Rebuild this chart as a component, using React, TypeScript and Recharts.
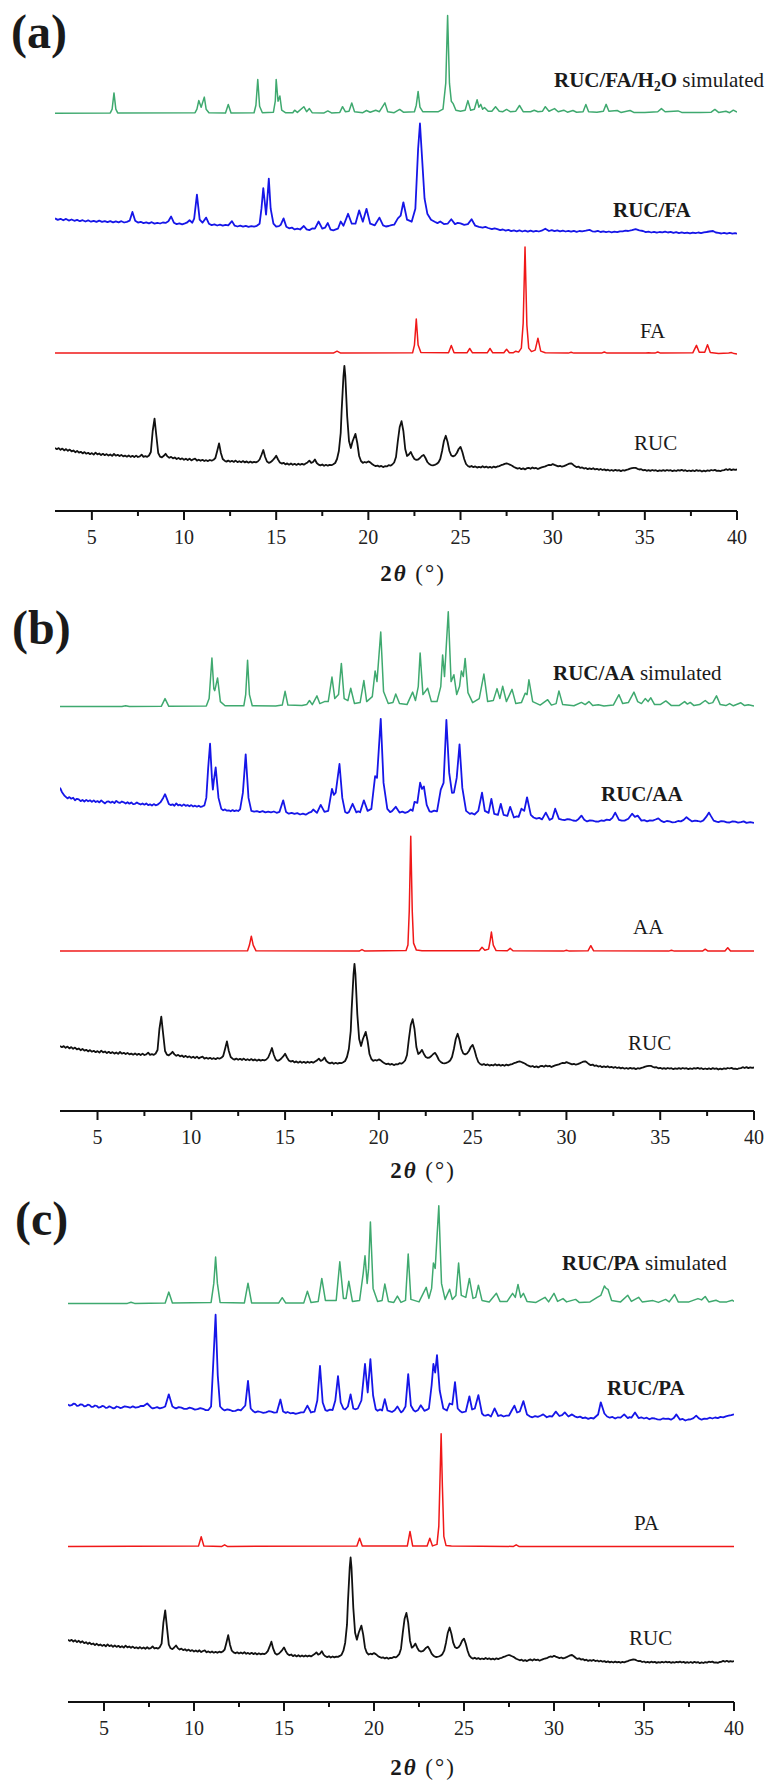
import { LineChart, Line, XAxis, YAxis } from "recharts";

type Pt = [number, number];

const TICKS = [5, 7.5, 10, 12.5, 15, 17.5, 20, 22.5, 25, 27.5, 30, 32.5, 35, 37.5, 40];

// RUC measured pattern (same in all three panels)
const RUC: Pt[] = [
  [3.0, 23], [3.1, 21.8], [3.2, 22.9], [3.3, 21.2], [3.4, 22.4], [3.5, 20.6], [3.6, 21.9], [3.7, 20.2], [3.8, 21.4], [3.9, 19.6],
  [4.0, 20.5], [4.1, 18.8], [4.2, 20.1], [4.3, 18.4], [4.4, 19.2], [4.5, 17.6], [4.6, 18.9], [4.7, 17.3], [4.8, 18.2], [4.9, 16.8],
  [5.0, 17.9], [5.1, 16.4], [5.2, 18.3], [5.3, 16.6], [5.4, 17.5], [5.5, 15.9], [5.6, 17.2], [5.7, 15.8], [5.8, 16.9], [5.9, 15.4],
  [6.0, 16.5], [6.1, 15.1], [6.2, 17], [6.3, 15.3], [6.4, 16.2], [6.5, 14.9], [6.6, 16.1], [6.7, 14.6], [6.8, 15.4], [6.9, 14.3],
  [7.0, 15.6], [7.1, 14.1], [7.2, 15.2], [7.3, 13.9], [7.4, 15.4], [7.5, 14], [7.6, 14.6], [7.7, 16.3], [7.8, 14.2], [7.9, 14.8],
  [8.0, 14.1], [8.1, 15.5], [8.2, 19], [8.3, 40], [8.4, 52.4], [8.5, 35], [8.6, 18], [8.7, 14.4], [8.8, 13.6], [8.9, 15.2],
  [9.0, 17.2], [9.1, 14.6], [9.2, 13.2], [9.3, 14.1], [9.4, 12.6], [9.5, 13.5], [9.6, 12], [9.7, 13.1], [9.8, 11.7], [9.9, 12.6],
  [10.0, 11.2], [10.1, 12.3], [10.2, 11], [10.3, 12.4], [10.4, 10.6], [10.5, 11.7], [10.6, 12.3], [10.7, 10.4], [10.8, 11.3], [10.9, 10.2],
  [11.0, 11.2], [11.1, 10], [11.2, 10.8], [11.3, 9.9], [11.4, 11], [11.5, 10.3], [11.6, 11.2], [11.7, 13], [11.8, 20], [11.9, 27.6],
  [12.0, 18], [12.1, 12], [12.2, 10.3], [12.3, 9.4], [12.4, 10.4], [12.5, 9.2], [12.6, 10.2], [12.7, 9.1], [12.8, 10.4], [12.9, 8.9],
  [13.0, 9.8], [13.1, 8.7], [13.2, 9.9], [13.3, 8.6], [13.4, 9.6], [13.5, 8.3], [13.6, 9.4], [13.7, 8.4], [13.8, 9.1], [13.9, 8.6],
  [14.0, 9.5], [14.1, 11.5], [14.2, 16], [14.3, 21], [14.4, 14], [14.5, 9.5], [14.6, 8.1], [14.7, 8.9], [14.8, 10.5], [14.9, 12.6],
  [15.0, 15.3], [15.1, 11.5], [15.2, 8.6], [15.3, 7.4], [15.4, 8.2], [15.5, 6.6], [15.6, 7.6], [15.7, 6.3], [15.8, 7.5], [15.9, 6.2],
  [16.0, 7.2], [16.1, 6.1], [16.2, 7.3], [16.3, 6.2], [16.4, 7.1], [16.5, 6.3], [16.6, 7.5], [16.7, 8.6], [16.8, 10.3], [16.9, 8.1],
  [17.0, 9], [17.1, 11.5], [17.2, 8], [17.3, 6.4], [17.4, 5.6], [17.5, 6.5], [17.6, 5.2], [17.7, 6.2], [17.8, 5.3], [17.9, 6.1],
  [18.0, 5.8], [18.1, 6.8], [18.2, 8], [18.3, 12], [18.4, 20], [18.5, 38], [18.55, 60], [18.65, 95], [18.7, 105.2], [18.75, 95],
  [18.85, 55], [18.95, 30], [19.05, 23], [19.15, 30], [19.3, 37.1], [19.4, 28], [19.5, 15], [19.6, 10], [19.7, 8.2], [19.8, 9],
  [19.9, 8.4], [20.0, 9.6], [20.1, 8.6], [20.2, 7], [20.3, 5.8], [20.4, 4.9], [20.5, 5.4], [20.6, 4.3], [20.7, 5.1], [20.8, 3.9],
  [20.9, 4.8], [21.0, 4.6], [21.1, 5.8], [21.2, 5.3], [21.3, 6.5], [21.4, 8.5], [21.5, 14], [21.6, 30], [21.7, 44], [21.8, 49.8],
  [21.9, 40], [22.0, 22], [22.1, 15], [22.2, 16.5], [22.3, 19.1], [22.4, 15], [22.5, 12], [22.6, 11.2], [22.7, 11.5], [22.8, 13],
  [22.9, 15], [23.0, 16.1], [23.1, 13], [23.2, 9], [23.3, 7], [23.4, 5.9], [23.5, 5.7], [23.6, 6.2], [23.7, 7], [23.8, 8.5],
  [23.9, 12], [24.0, 20], [24.1, 30], [24.2, 35.2], [24.3, 29], [24.4, 20], [24.5, 15.5], [24.6, 14.6], [24.7, 15.5], [24.8, 18],
  [24.9, 22], [25.0, 24.1], [25.1, 19], [25.2, 12], [25.3, 7], [25.4, 5], [25.5, 4.1], [25.6, 5], [25.7, 3.8], [25.8, 4.6],
  [25.9, 3.4], [26.0, 4.2], [26.1, 3.5], [26.2, 4.8], [26.3, 3.6], [26.4, 4.4], [26.5, 3.3], [26.6, 4.1], [26.7, 3.2], [26.8, 4.4],
  [26.9, 3.6], [27.0, 4.5], [27.1, 4.9], [27.2, 5.8], [27.3, 6.4], [27.4, 7.2], [27.5, 7.7], [27.6, 7], [27.7, 6.2], [27.8, 5.3],
  [27.9, 4], [28.0, 3.2], [28.1, 2.4], [28.2, 3], [28.3, 1.8], [28.4, 2.6], [28.5, 1.6], [28.6, 2.8], [28.7, 3.2], [28.8, 2.2],
  [28.9, 3.5], [29.0, 2.6], [29.1, 3.1], [29.2, 2], [29.3, 2.9], [29.4, 3.6], [29.5, 4.2], [29.6, 4.6], [29.7, 5.5], [29.8, 6.2],
  [29.9, 5.8], [30.0, 6.9], [30.1, 6.1], [30.2, 5.4], [30.3, 4.6], [30.4, 5.2], [30.5, 4.3], [30.6, 4.8], [30.7, 5.6], [30.8, 6.5],
  [30.9, 7.3], [31.0, 7.7], [31.1, 6.4], [31.2, 4.9], [31.3, 3.8], [31.4, 4.4], [31.5, 3.1], [31.6, 3.6], [31.7, 2.4], [31.8, 3],
  [31.9, 1.8], [32.0, 2.6], [32.1, 1.9], [32.2, 2.8], [32.3, 1.6], [32.4, 2.2], [32.5, 1.2], [32.6, 2], [32.7, 1], [32.8, 1.6],
  [32.9, 0.6], [33.0, 1.3], [33.1, 0.3], [33.2, 1], [33.3, 0.2], [33.4, 1.1], [33.5, 0.3], [33.6, 0.9], [33.7, -0.1], [33.8, 0.8],
  [33.9, 0.4], [34.0, 1.1], [34.1, 1.6], [34.2, 2.4], [34.3, 2.8], [34.4, 3.2], [34.5, 3.1], [34.6, 2.2], [34.7, 1.5], [34.8, 1.8],
  [34.9, 0.7], [35.0, 1.2], [35.1, 0.2], [35.2, 0.9], [35.3, 0.1], [35.4, 1], [35.5, 0.3], [35.6, 0.8], [35.7, -0.2], [35.8, 0.6],
  [35.9, 0.1], [36.0, 0.9], [36.1, 0.2], [36.2, 1], [36.3, 0.3], [36.4, 0.8], [36.5, -0.1], [36.6, 0.6], [36.7, 0], [36.8, 0.9],
  [36.9, 0.3], [37.0, 1.1], [37.1, 0.2], [37.2, 0.8], [37.3, -0.2], [37.4, 0.5], [37.5, -0.1], [37.6, 0.7], [37.7, -0.2], [37.8, 0.9],
  [37.9, 0.1], [38.0, 0.6], [38.1, -0.5], [38.2, 0.4], [38.3, -0.3], [38.4, 0.6], [38.5, 0.1], [38.6, 1], [38.7, 0.5], [38.8, 1.1],
  [38.9, 0.1], [39.0, 0.4], [39.1, -0.2], [39.2, 0.7], [39.3, 0.9], [39.4, 1.8], [39.5, 1], [39.6, 1.9], [39.7, 0.9], [39.8, 1.6],
  [39.9, 1.1], [40, 1.5],
];

// (a)
const FA_H2O_SIM: Pt[] = [
  [3, 0], [6.0, 0.3], [6.1, 4], [6.2, 20.3], [6.3, 4], [6.4, 0.3], [10.6, 0.5], [10.7, 4], [10.8, 12.6], [10.93, 6],
  [11.1, 16.1], [11.2, 4], [11.35, 0.5], [12.25, 0.3], [12.4, 8.8], [12.55, 0.3], [13.8, 0.5], [13.9, 8], [14.0, 33.7], [14.1, 7],
  [14.25, 0.5], [14.85, 1], [14.95, 12], [15.0, 33.7], [15.1, 12], [15.2, 17.2], [15.3, 3], [15.5, 0.5], [15.9, 0.5], [16.0, 3],
  [16.15, 0.8], [16.5, 6.5], [16.65, 1.5], [16.8, 4.6], [16.95, 0.5], [17.6, 0.3], [17.8, 2.3], [18.0, 0.3], [18.45, 0.8], [18.6, 6.5],
  [18.75, 1.5], [18.95, 2], [19.1, 10.3], [19.25, 1.5], [19.7, 0.5], [19.9, 2.7], [20.1, 1], [20.4, 3], [20.6, 1.5], [20.9, 10.3],
  [21.05, 1.5], [21.4, 0.5], [21.7, 3.8], [21.9, 1], [22.5, 1.5], [22.6, 8], [22.7, 21.8], [22.8, 6], [22.95, 1.5], [23.8, 1.5],
  [24.05, 4], [24.2, 30], [24.3, 97.6], [24.4, 30], [24.5, 12], [24.6, 9.6], [24.75, 3], [25.0, 2], [25.25, 3], [25.4, 12.6],
  [25.55, 3], [25.75, 4], [25.9, 13.4], [26.0, 6], [26.1, 8.8], [26.2, 4], [26.3, 5.7], [26.5, 2], [26.7, 2], [26.9, 6.5],
  [27.1, 2], [27.3, 1.5], [27.5, 3.8], [27.7, 1.5], [28.0, 2], [28.2, 7.7], [28.4, 1.5], [28.8, 1.5], [29.0, 3], [29.2, 1.5],
  [29.45, 2], [29.6, 6.5], [29.8, 2], [30.1, 4.6], [30.3, 1.5], [30.6, 3], [30.8, 1], [31.1, 2.7], [31.3, 1], [31.65, 1.5],
  [31.8, 8.8], [31.95, 1.5], [32.4, 1], [32.75, 2], [32.9, 8.8], [33.05, 2], [33.5, 2.7], [33.7, 0.8], [34.2, 2.7], [34.4, 0.8],
  [35.0, 0.8], [35.7, 1.5], [35.9, 4.6], [36.1, 1.5], [36.8, 2.3], [37.0, 0.8], [38.0, 0.8], [38.6, 1], [38.8, 3.8], [39.0, 0.8],
  [39.4, 2], [39.6, 0.5], [39.8, 3], [40, 1],
];

const RUC_FA: Pt[] = [
  [3, 15.3], [3.15, 13.8], [3.3, 14.9], [3.45, 13.4], [3.6, 14.8], [3.75, 13.1], [3.9, 14.2], [4.05, 12.9], [4.2, 13.8], [4.35, 12.5],
  [4.5, 13.5], [4.65, 12.2], [4.8, 13.4], [4.95, 12], [5.1, 12.9], [5.25, 11.8], [5.4, 13.1], [5.55, 11.9], [5.7, 12.6], [5.85, 11.5],
  [6.0, 12.6], [6.15, 11.3], [6.3, 12.4], [6.45, 11.4], [6.6, 12.5], [6.75, 11.2], [6.9, 11.9], [7.05, 13], [7.2, 21.8], [7.35, 13],
  [7.5, 11.1], [7.65, 11.9], [7.8, 10.6], [7.95, 11.4], [8.1, 10.4], [8.25, 11.5], [8.4, 10.1], [8.55, 10.9], [8.7, 10.2], [8.85, 11.2],
  [9.0, 10.8], [9.15, 12.5], [9.3, 17.2], [9.45, 11], [9.6, 9.6], [9.75, 10.4], [9.9, 9.4], [10.05, 10.3], [10.15, 11], [10.3, 13.4],
  [10.45, 11], [10.55, 15], [10.7, 39], [10.85, 14], [11.0, 11], [11.2, 16.1], [11.35, 10], [11.5, 8.6], [11.65, 9.4], [11.8, 8.2],
  [11.95, 9], [12.1, 8], [12.25, 8.9], [12.4, 8.3], [12.6, 12.6], [12.75, 8], [12.9, 7.2], [13.05, 8], [13.2, 7.1], [13.35, 7.8],
  [13.5, 6.8], [13.65, 7.6], [13.8, 7], [13.95, 7.9], [14.1, 10], [14.2, 25], [14.3, 45.5], [14.4, 28], [14.45, 19.1], [14.5, 30],
  [14.6, 55.1], [14.7, 25], [14.85, 10], [15.0, 7], [15.15, 7.6], [15.25, 9], [15.4, 15.3], [15.55, 7], [15.7, 5.4], [15.85, 6.1],
  [16.0, 4.3], [16.15, 5.1], [16.3, 4.2], [16.5, 7.7], [16.65, 4.4], [16.8, 3.6], [16.95, 5.2], [17.1, 5], [17.3, 12.2], [17.5, 5],
  [17.65, 6], [17.8, 10.7], [17.95, 4], [18.1, 3.3], [18.2, 4], [18.35, 5], [18.5, 12.2], [18.65, 8], [18.9, 19.9], [19.1, 10],
  [19.3, 10], [19.5, 23.3], [19.7, 12], [19.9, 24.9], [20.1, 10], [20.35, 8.4], [20.6, 16.1], [20.8, 8.4], [20.95, 7.2], [21.1, 7.7],
  [21.25, 8.6], [21.4, 9], [21.6, 15.3], [21.75, 18], [21.9, 31.4], [22.1, 14], [22.35, 12], [22.55, 25], [22.7, 85], [22.8, 110.2],
  [22.9, 80], [23.05, 35], [23.2, 20], [23.4, 14], [23.6, 12], [23.75, 10.6], [23.9, 12.2], [24.1, 9.6], [24.3, 10], [24.5, 14.5],
  [24.7, 9.6], [24.85, 10.8], [25.0, 10.3], [25.2, 8.8], [25.4, 9.6], [25.6, 14.5], [25.8, 8], [26.0, 6.9], [26.2, 6], [26.35, 6.8],
  [26.5, 5.7], [26.7, 4.5], [26.85, 5.4], [27.0, 4.6], [27.15, 3.6], [27.3, 4.2], [27.45, 3.1], [27.6, 3.8], [27.75, 2.6], [27.9, 3.3],
  [28.05, 2.4], [28.2, 3.4], [28.35, 2.2], [28.5, 3], [28.65, 2], [28.8, 3.1], [28.95, 2.1], [29.1, 2.9], [29.25, 2.2], [29.4, 3],
  [29.6, 5], [29.8, 2.7], [29.95, 3.6], [30.1, 2.5], [30.25, 3.4], [30.4, 2.3], [30.55, 3.1], [30.7, 2.2], [30.85, 2.9], [31.0, 2],
  [31.15, 2.8], [31.3, 1.9], [31.45, 2.7], [31.6, 2.3], [31.8, 3], [32.0, 3.8], [32.15, 2.4], [32.3, 2], [32.45, 2.8], [32.6, 1.7],
  [32.75, 2.3], [32.9, 1.5], [33.05, 2.2], [33.2, 1.4], [33.35, 2], [33.5, 1.5], [33.65, 2.4], [33.8, 2.3], [33.95, 3], [34.1, 2.7],
  [34.3, 3.6], [34.5, 4.6], [34.7, 3.4], [34.9, 2.7], [35.05, 1.6], [35.2, 2.1], [35.35, 1.2], [35.5, 1.9], [35.65, 1], [35.8, 1.7],
  [35.95, 1.3], [36.1, 2.1], [36.25, 1.2], [36.4, 1.8], [36.55, 0.8], [36.7, 1.5], [36.85, 0.6], [37.0, 1.3], [37.15, 0.5], [37.3, 1.1],
  [37.45, 0.3], [37.6, 1.1], [37.75, 0.5], [37.9, 1.2], [38.05, 0.6], [38.2, 1.4], [38.35, 1.7], [38.5, 2.2], [38.7, 2.7], [38.85, 1.2],
  [39.0, 0.8], [39.15, 0.2], [39.3, 0.9], [39.45, 0.1], [39.6, 0.8], [39.75, 0.1], [39.9, 0.6], [40, 0],
];

const FA: Pt[] = [
  [3, 0], [18.1, 0], [18.3, 1.9], [18.5, 0], [22.4, 0.3], [22.5, 8], [22.6, 34.1], [22.7, 8], [22.85, 0.5], [24.35, 0.3],
  [24.5, 7.7], [24.65, 0.3], [25.35, 0.3], [25.5, 4.6], [25.65, 0.3], [26.45, 0.3], [26.6, 4.6], [26.75, 0.3], [27.35, 0.3], [27.5, 3.8],
  [27.65, 0.3], [27.85, 0.3], [28.0, 1.9], [28.15, 1], [28.3, 5], [28.4, 30], [28.5, 106], [28.6, 28], [28.7, 5], [28.85, 1.5],
  [29.05, 3], [29.2, 14.9], [29.35, 2], [29.6, 0.3], [30.85, 0], [31.0, 0.8], [31.15, 0], [32.65, 0], [32.8, 1.1], [32.95, 0],
  [35.05, 0], [35.2, 0.4], [35.35, 0], [35.55, 0], [35.7, 1.1], [35.85, 0], [37.6, 0.3], [37.8, 7.7], [37.95, 0.8], [38.25, 0.8],
  [38.4, 8.4], [38.55, 0.5], [39.0, -0.3], [39.55, 0], [39.7, 0.5], [39.85, -0.5], [40, -1],
];

// (b)
const AA_SIM: Pt[] = [
  [3, 0], [6.3, 0], [6.5, 0.8], [6.7, 0], [8.4, 0.3], [8.6, 8], [8.8, 0.3], [10.8, 0.5], [10.95, 8], [11.1, 48.6],
  [11.2, 18], [11.25, 16], [11.3, 20], [11.4, 28.7], [11.55, 5], [11.8, 0.8], [12.8, 0.8], [12.9, 12], [13.0, 46.3], [13.1, 12],
  [13.25, 0.8], [14.5, 0.5], [14.85, 1.5], [15.0, 15.3], [15.15, 1.5], [15.9, 1], [16.15, 2], [16.3, 6.1], [16.45, 2], [16.7, 10.7],
  [16.85, 3], [17.1, 5], [17.3, 5], [17.5, 29.5], [17.65, 8], [17.85, 12], [18.0, 43.2], [18.15, 8], [18.35, 6], [18.5, 18.4],
  [18.7, 3], [19.0, 4], [19.2, 26], [19.35, 5], [19.65, 10], [19.8, 35.6], [19.9, 25], [20.1, 74.6], [20.25, 15], [20.5, 3],
  [20.75, 4], [20.9, 12.6], [21.1, 3], [21.5, 2], [21.8, 14.5], [21.95, 6], [22.1, 20], [22.2, 53.6], [22.35, 12], [22.6, 18.4],
  [22.8, 5], [23.1, 5], [23.3, 20], [23.4, 51.7], [23.5, 30], [23.7, 94.9], [23.85, 25], [24.0, 31.8], [24.15, 12], [24.3, 20],
  [24.4, 35.6], [24.5, 30], [24.6, 48.2], [24.75, 14], [25.0, 4], [25.35, 8], [25.6, 32.5], [25.8, 5], [26.1, 6], [26.3, 18],
  [26.45, 8], [26.6, 20.3], [26.8, 5], [27.1, 17.2], [27.3, 3], [27.6, 4], [27.8, 13.4], [27.9, 12], [28.0, 26.8], [28.2, 5],
  [28.6, 1.5], [29.0, 6.9], [29.2, 1.5], [29.45, 3], [29.6, 15.7], [29.8, 2], [30.4, 0.8], [30.8, 4.2], [31.0, 2], [31.2, 5],
  [31.4, 1], [31.7, 1.9], [32.0, 0.5], [32.5, 1.5], [32.8, 11.9], [33.0, 3], [33.3, 4], [33.6, 14.5], [33.8, 5], [34.0, 3],
  [34.2, 8], [34.35, 5], [34.5, 8.8], [34.7, 2], [35.0, 2], [35.3, 5.7], [35.6, 1], [36.0, 1], [36.3, 5], [36.45, 2.5],
  [36.6, 4.2], [36.8, 1], [37.1, 2], [37.4, 6.1], [37.6, 3], [37.8, 4], [38.0, 10.7], [38.2, 2], [38.5, 1], [38.7, 3],
  [38.9, 0.8], [39.3, 3.8], [39.5, 1], [39.7, 1.9], [40, 0.5],
];

const RUC_AA: Pt[] = [
  [3, 35.2], [3.1, 31], [3.25, 27], [3.4, 24.5], [3.5, 25.8], [3.6, 24.2], [3.7, 25.2], [3.8, 22.6], [3.9, 24.1], [4.0, 23.5],
  [4.1, 21.8], [4.2, 22.9], [4.3, 21.4], [4.4, 23], [4.5, 21.6], [4.6, 22.6], [4.7, 21], [4.8, 22.5], [4.9, 20.9], [5.0, 21.8],
  [5.1, 20.5], [5.2, 22.5], [5.3, 20.8], [5.4, 19.5], [5.5, 21.2], [5.6, 21.5], [5.7, 20.2], [5.8, 21.3], [5.9, 19.8], [6.0, 22],
  [6.1, 20.6], [6.2, 20], [6.3, 21.4], [6.4, 20.6], [6.5, 19.4], [6.6, 20.7], [6.7, 19.2], [6.8, 20.5], [6.9, 18.8], [7.0, 19.1],
  [7.1, 20.4], [7.2, 19.2], [7.3, 18.4], [7.4, 19.4], [7.5, 18.2], [7.6, 19.5], [7.7, 17.8], [7.8, 18.6], [7.9, 17.4], [8.0, 18.8],
  [8.1, 17.6], [8.2, 18.2], [8.35, 20.5], [8.5, 25], [8.6, 28.7], [8.7, 24], [8.8, 19], [8.9, 17.8], [9.0, 18.6], [9.1, 17.2],
  [9.2, 19.5], [9.3, 17.6], [9.4, 18.2], [9.5, 17], [9.6, 18.5], [9.7, 17.1], [9.8, 17.8], [9.9, 16.6], [10.0, 17.8], [10.1, 16.4],
  [10.2, 17.2], [10.3, 16.2], [10.4, 17.2], [10.5, 16], [10.6, 16.6], [10.7, 17.5], [10.8, 25], [10.9, 55], [11.0, 79.2], [11.1, 45],
  [11.15, 33.3], [11.2, 42], [11.3, 55.5], [11.45, 25], [11.6, 14], [11.7, 12.6], [11.8, 13.5], [11.9, 12.2], [12.0, 12.6], [12.1, 11.6],
  [12.2, 12.8], [12.3, 11.8], [12.4, 12.5], [12.5, 11.9], [12.6, 13.5], [12.75, 30], [12.9, 68.5], [13.05, 25], [13.2, 12], [13.35, 11.2],
  [13.5, 11.8], [13.65, 10.8], [13.8, 11.7], [13.95, 10.5], [14.1, 11.3], [14.25, 10.6], [14.4, 11.4], [14.55, 10.1], [14.7, 11], [14.9, 22.6],
  [15.05, 11], [15.2, 9.2], [15.35, 10.1], [15.5, 9], [15.65, 9.8], [15.8, 8.4], [15.95, 9.2], [16.1, 8.2], [16.25, 10], [16.4, 11],
  [16.5, 13.4], [16.7, 10], [16.9, 18], [17.1, 11], [17.3, 12], [17.5, 34.1], [17.6, 28], [17.7, 30.2], [17.9, 58.9], [18.05, 25],
  [18.2, 11], [18.3, 9.8], [18.4, 10.8], [18.6, 19.1], [18.8, 10.5], [18.9, 11.6], [19.0, 10.6], [19.2, 22.6], [19.4, 12], [19.6, 14],
  [19.8, 46.7], [19.9, 45], [20.1, 104.1], [20.25, 40], [20.45, 14], [20.6, 10.8], [20.7, 11.8], [20.9, 16.1], [21.1, 10.3], [21.25, 11.2],
  [21.4, 10], [21.55, 11], [21.7, 13.4], [21.8, 12], [21.9, 21], [22.05, 20], [22.2, 40.2], [22.3, 34], [22.4, 36.4], [22.55, 18],
  [22.7, 11.6], [22.8, 11], [22.95, 12.2], [23.1, 11.5], [23.3, 33.3], [23.45, 40], [23.6, 102.9], [23.75, 50], [23.9, 30], [24.0, 30.2],
  [24.15, 45], [24.3, 78.5], [24.45, 35], [24.65, 12], [24.85, 9], [24.95, 9.8], [25.1, 8.4], [25.3, 12], [25.5, 30.2], [25.65, 12],
  [25.85, 10], [26.0, 24.1], [26.15, 9], [26.35, 8], [26.5, 19.1], [26.65, 8], [26.85, 7], [27.0, 16.1], [27.2, 5.4], [27.35, 6.6],
  [27.45, 6], [27.6, 14.2], [27.75, 12], [27.9, 25.6], [28.1, 8], [28.25, 5.4], [28.4, 4.2], [28.55, 5], [28.7, 3.5], [28.9, 10.3],
  [29.1, 3], [29.25, 4.4], [29.4, 14.2], [29.6, 4], [29.75, 3.2], [29.9, 2.7], [30.05, 3.8], [30.2, 3.4], [30.35, 2.4], [30.5, 2],
  [30.65, 4], [30.8, 7.3], [30.95, 3.2], [31.1, 1.5], [31.25, 2.6], [31.4, 2.3], [31.55, 1.4], [31.7, 1.2], [31.85, 2.4], [32.0, 2],
  [32.15, 3.2], [32.3, 2.7], [32.45, 5], [32.6, 10.3], [32.8, 3], [32.95, 2.2], [33.1, 2.3], [33.3, 4.2], [33.5, 9.2], [33.65, 6],
  [33.8, 7.3], [34.0, 2.3], [34.15, 2.8], [34.3, 1.5], [34.45, 2.6], [34.6, 2.3], [34.75, 3.4], [34.9, 4.6], [35.05, 2], [35.2, 0.8],
  [35.35, 1.9], [35.5, 1.5], [35.65, 0.6], [35.8, 0.8], [35.95, 1.9], [36.1, 1.5], [36.25, 3], [36.4, 5.7], [36.55, 3.4], [36.7, 1.5],
  [36.85, 2.2], [37.0, 1.9], [37.15, 1.2], [37.3, 2.5], [37.45, 6], [37.6, 10.3], [37.7, 7], [37.85, 2.3], [38.0, 1.2], [38.1, 0.8],
  [38.25, 1.8], [38.4, 1.5], [38.55, 0.5], [38.7, 0.4], [38.85, 1.5], [39.0, 1.2], [39.15, 0.3], [39.3, 0.8], [39.45, 1.5], [39.6, 0],
  [39.8, 0.8], [40, 0],
];

const AA: Pt[] = [
  [3, 0], [13.0, 0.3], [13.1, 6], [13.2, 14.9], [13.3, 6], [13.45, 0.3], [18.95, 0], [19.1, 1.5], [19.25, 0], [21.45, 0.5],
  [21.55, 6], [21.62, 40], [21.7, 114.8], [21.78, 40], [21.85, 8], [22.0, 1], [22.3, 0.3], [25.35, 0.3], [25.5, 3.8], [25.65, 0.8],
  [25.85, 2], [25.93, 10], [26.0, 19.1], [26.1, 6], [26.25, 0.5], [26.85, 0.3], [27.0, 2.7], [27.15, 0.3], [29.85, 0], [30.0, 0.8],
  [30.15, 0], [31.15, 0.3], [31.3, 5.4], [31.45, 0.3], [35.45, 0], [35.6, 0.8], [35.75, 0], [37.25, 0], [37.4, 1.9], [37.55, 0],
  [38.45, 0], [38.6, 3.4], [38.75, 0], [40, 0],
];

// (c)
const PA_SIM: Pt[] = [
  [3, 0], [6.3, 0], [6.5, 1.2], [6.7, 0], [8.4, 0.3], [8.6, 11.3], [8.8, 0.3], [10.95, 1], [11.1, 20], [11.2, 46.4],
  [11.3, 20], [11.45, 1], [12.8, 0.5], [13.0, 20.2], [13.2, 0.5], [14.7, 0.3], [14.9, 5.7], [15.1, 0.3], [16.1, 0.5], [16.3, 12.1],
  [16.5, 0.8], [16.9, 2], [17.1, 25], [17.3, 3], [17.9, 3], [18.1, 41.6], [18.3, 5], [18.45, 5], [18.6, 22.2], [18.8, 2],
  [19.2, 3], [19.4, 30], [19.5, 47.6], [19.62, 20], [19.7, 35], [19.8, 81.5], [19.95, 15], [20.2, 2], [20.45, 3], [20.6, 19.4],
  [20.8, 2], [21.1, 1], [21.3, 7.3], [21.5, 1], [21.75, 3], [21.9, 49.3], [22.05, 4], [22.5, 1.5], [22.9, 16.1], [23.05, 5],
  [23.2, 15], [23.3, 40.4], [23.4, 35], [23.6, 97.7], [23.75, 20], [23.95, 4], [24.2, 14.1], [24.35, 4], [24.55, 8], [24.7, 40.4],
  [24.85, 8], [25.1, 6], [25.3, 25], [25.5, 5], [25.65, 6], [25.8, 18.2], [26.0, 3], [26.4, 1.5], [26.8, 10.1], [27.0, 2],
  [27.4, 2], [27.7, 10.1], [27.85, 6], [28.0, 19], [28.15, 6], [28.3, 10.1], [28.5, 2], [29.0, 1], [29.5, 6.1], [29.7, 1.5],
  [30.0, 10.1], [30.2, 2], [30.5, 4.8], [30.7, 1.5], [31.2, 4], [31.4, 1], [32.0, 1.5], [32.4, 6.1], [32.6, 8], [32.8, 17.4],
  [32.9, 15], [33.0, 14.1], [33.2, 3], [33.7, 1.5], [34.1, 8.1], [34.3, 2], [34.7, 6.1], [34.9, 1.5], [35.5, 2.8], [35.8, 1],
  [36.2, 4], [36.4, 1.5], [36.7, 8.9], [36.9, 1.5], [37.5, 1.5], [38.0, 4.8], [38.2, 3.5], [38.4, 6.9], [38.6, 1.5], [39.0, 3.2],
  [39.2, 1.5], [39.6, 1.5], [39.9, 3.2], [40, 2],
];

const RUC_PA: Pt[] = [
  [3, 16.1], [3.1, 14.8], [3.2, 15.3], [3.3, 16.8], [3.4, 16.5], [3.5, 14.6], [3.6, 14.9], [3.7, 16.2], [3.8, 15.8], [3.9, 14.2],
  [4.0, 14.5], [4.1, 15.8], [4.2, 15.3], [4.3, 13.6], [4.4, 13.7], [4.5, 15], [4.6, 14.5], [4.7, 12.9], [4.8, 13.3], [4.9, 14.6],
  [5.0, 14.1], [5.1, 12.6], [5.2, 12.9], [5.3, 14.2], [5.4, 13.3], [5.5, 12.2], [5.6, 12.5], [5.7, 14], [5.8, 13.5], [5.9, 12.4],
  [6.0, 12.9], [6.15, 14.2], [6.3, 13.7], [6.45, 12.8], [6.6, 14.1], [6.75, 12.9], [6.9, 13.3], [7.05, 14.6], [7.2, 14.5], [7.4, 17],
  [7.6, 13.3], [7.7, 12.1], [7.8, 12.5], [7.95, 13.4], [8.1, 12.1], [8.25, 12.8], [8.4, 14], [8.6, 26.2], [8.8, 14], [8.9, 12.9],
  [9.0, 12.1], [9.15, 13.4], [9.3, 12.9], [9.45, 11.6], [9.6, 11.7], [9.75, 12.8], [9.9, 12.1], [10.05, 10.9], [10.2, 11.3], [10.35, 12.4],
  [10.5, 11.7], [10.65, 10.4], [10.8, 10.5], [10.95, 14], [11.05, 50], [11.2, 105.8], [11.32, 45], [11.45, 14], [11.6, 11.2], [11.7, 10.1],
  [11.85, 11.1], [12.0, 10.5], [12.15, 9.4], [12.3, 9.7], [12.45, 10.8], [12.6, 10.1], [12.85, 15], [13.0, 39.6], [13.15, 12], [13.3, 9.2],
  [13.4, 8.1], [13.55, 9.2], [13.7, 8.5], [13.85, 7.6], [14.0, 8.1], [14.15, 9.3], [14.3, 8.9], [14.45, 7.9], [14.6, 8.1], [14.8, 21],
  [14.95, 9], [15.1, 7.6], [15.2, 8.5], [15.35, 7.2], [15.5, 7.7], [15.65, 6.6], [15.8, 7.3], [15.95, 8.2], [16.1, 8.1], [16.3, 14.9],
  [16.5, 8], [16.6, 8.6], [16.7, 8.9], [16.85, 20], [17.0, 54.5], [17.15, 18], [17.3, 10.4], [17.4, 9.7], [17.55, 10.8], [17.7, 10.5],
  [17.85, 20], [18.0, 44.4], [18.15, 18], [18.3, 11.8], [18.4, 11], [18.55, 14], [18.7, 26.2], [18.85, 12], [18.95, 11.2], [19.1, 12],
  [19.3, 20], [19.5, 56.5], [19.65, 28], [19.8, 61.4], [19.95, 25], [20.1, 11.2], [20.2, 9.7], [20.35, 11.1], [20.45, 10], [20.6, 21.4],
  [20.75, 10], [20.9, 9.2], [21.0, 8.5], [21.15, 10.2], [21.3, 14.1], [21.5, 8.1], [21.6, 9.4], [21.75, 14], [21.9, 46.4], [22.05, 15],
  [22.2, 10.2], [22.3, 9], [22.45, 10.6], [22.6, 15.3], [22.8, 9.7], [22.95, 10.8], [23.05, 12], [23.2, 35], [23.3, 56.5], [23.4, 48],
  [23.5, 65.4], [23.65, 30], [23.85, 12], [23.95, 11], [24.05, 10], [24.2, 17], [24.35, 16], [24.5, 38.4], [24.65, 12], [24.8, 9.2],
  [24.9, 8.1], [25.1, 9], [25.3, 24.2], [25.45, 11], [25.6, 12], [25.8, 25.4], [26.0, 7], [26.1, 5.2], [26.2, 4.8], [26.35, 5.8],
  [26.5, 4], [26.7, 12.1], [26.9, 4.5], [27.05, 5.4], [27.2, 4], [27.35, 4.8], [27.5, 5], [27.65, 10], [27.8, 14.9], [27.95, 8],
  [28.1, 9], [28.3, 19.4], [28.5, 6], [28.65, 4.2], [28.8, 3.2], [28.95, 4.4], [29.1, 3.6], [29.25, 4.8], [29.4, 6.1], [29.6, 3.2],
  [29.75, 4.4], [29.9, 4], [30.1, 8.9], [30.3, 4.5], [30.45, 5.4], [30.6, 8.1], [30.8, 4], [31.0, 6.1], [31.15, 4.2], [31.3, 3.2],
  [31.45, 3.9], [31.6, 2.4], [31.75, 3], [31.9, 1.6], [32.05, 2.6], [32.2, 2], [32.45, 6], [32.6, 18.2], [32.8, 7], [32.95, 4],
  [33.1, 2.8], [33.25, 3.6], [33.4, 2], [33.55, 3.2], [33.7, 2.8], [33.9, 6.1], [34.1, 2.4], [34.2, 3.4], [34.3, 2.8], [34.5, 8.1],
  [34.7, 2.4], [34.85, 3.2], [35.0, 2], [35.15, 2.8], [35.3, 1.2], [35.45, 2.4], [35.6, 2], [35.75, 1.2], [35.9, 0.8], [36.05, 2],
  [36.2, 1.6], [36.35, 1.9], [36.5, 0.8], [36.65, 2.4], [36.8, 6.1], [37.0, 0.8], [37.15, 1.6], [37.3, 0], [37.45, 1], [37.6, 1.2],
  [37.75, 2.4], [37.9, 4.8], [38.05, 2.1], [38.2, 0.8], [38.35, 1.9], [38.5, 1.6], [38.65, 2.8], [38.8, 2], [38.95, 3], [39.1, 2.4],
  [39.25, 3.6], [39.4, 3.2], [39.55, 4.2], [39.7, 4.8], [39.85, 5.4], [40, 6.1],
];

const PA: Pt[] = [
  [3, 0], [10.25, 0.3], [10.4, 9.7], [10.55, 0.3], [11.55, 0], [11.7, 1.6], [11.85, 0], [19.05, 0.3], [19.2, 8.1], [19.35, 0.3],
  [21.85, 0.3], [22.0, 14.9], [22.15, 0.3], [22.95, 0.3], [23.1, 8.1], [23.25, 0.5], [23.5, 2], [23.6, 20], [23.67, 70], [23.73, 112.6],
  [23.8, 60], [23.88, 10], [24.0, 1], [24.3, 0.3], [27.75, 0], [27.9, 1.6], [28.05, 0], [40, 0],
];

const GREEN = "#3fa96f";
const BLUE = "#1616e8";
const RED = "#f01818";
const BLACK = "#111111";
const SERIF = '"Liberation Serif", "Times New Roman", serif';
const PLOT_H = 511;
const AXIS_H = 70;
const RIGHT_PAD = 24;

type Series = { name: string; data: Pt[]; offset: number; color: string; width: number };
type PanelCfg = { left: number; top: number; width: number; series: Series[] };

const PANELS: PanelCfg[] = [
  {
    left: 55, top: 0, width: 682,
    series: [
      { name: "RUC/FA/H2O simulated", data: FA_H2O_SIM, offset: 397.8, color: GREEN, width: 1.5 },
      { name: "RUC/FA", data: RUC_FA, offset: 277.3, color: BLUE, width: 1.8 },
      { name: "FA", data: FA, offset: 157.9, color: RED, width: 1.5 },
      { name: "RUC", data: RUC, offset: 40, color: BLACK, width: 1.8 },
    ],
  },
  {
    left: 60, top: 600, width: 694,
    series: [
      { name: "RUC/AA simulated", data: AA_SIM, offset: 404.4, color: GREEN, width: 1.5 },
      { name: "RUC/AA", data: RUC_AA, offset: 288.1, color: BLUE, width: 1.8 },
      { name: "AA", data: AA, offset: 159.9, color: RED, width: 1.5 },
      { name: "RUC", data: RUC, offset: 42, color: BLACK, width: 1.8 },
    ],
  },
  {
    left: 68, top: 1191, width: 666,
    series: [
      { name: "RUC/PA simulated", data: PA_SIM, offset: 398.6, color: GREEN, width: 1.5 },
      { name: "RUC/PA", data: RUC_PA, offset: 281.5, color: BLUE, width: 1.8 },
      { name: "PA", data: PA, offset: 155.6, color: RED, width: 1.5 },
      { name: "RUC", data: RUC, offset: 39.3, color: BLACK, width: 1.8 },
    ],
  },
];

const AxisTick = (props: any) => {
  const { x, y, payload } = props;
  const major = payload.value % 5 === 0;
  return (
    <g>
      <line x1={x} x2={x} y1={y} y2={y + (major ? 9 : 5)} stroke={BLACK} strokeWidth={2} />
      {major && (
        <text x={x} y={y + 33} textAnchor="middle" fontFamily={SERIF} fontSize={20} fill="#222">
          {payload.value}
        </text>
      )}
    </g>
  );
};

const Panel = ({ cfg }: { cfg: PanelCfg }) => (
  <div style={{ position: "absolute", left: cfg.left, top: cfg.top }}>
    <LineChart
      width={cfg.width + RIGHT_PAD}
      height={PLOT_H + AXIS_H}
      margin={{ top: 0, right: RIGHT_PAD, bottom: 0, left: 0 }}
    >
      <XAxis
        type="number"
        dataKey="x"
        domain={[3, 40]}
        ticks={TICKS}
        interval={0}
        tickSize={0}
        tickMargin={0}
        tick={<AxisTick />}
        axisLine={{ stroke: BLACK, strokeWidth: 2 }}
        height={AXIS_H}
        allowDataOverflow
      />
      <YAxis hide type="number" domain={[0, PLOT_H]} allowDataOverflow />
      {cfg.series.map((s) => (
        <Line
          key={s.name}
          data={s.data.map(([x, v]) => ({ x, y: v + s.offset }))}
          dataKey="y"
          name={s.name}
          type="linear"
          stroke={s.color}
          strokeWidth={s.width}
          strokeLinejoin="round"
          dot={false}
          activeDot={false}
          isAnimationActive={false}
        />
      ))}
    </LineChart>
  </div>
);

const Label = ({ x, y, size = 21, bold = false, children }: any) => (
  <div
    style={{
      position: "absolute",
      left: x,
      top: y,
      transform: "translateY(-50%)",
      fontFamily: SERIF,
      fontSize: size,
      fontWeight: bold ? "bold" : "normal",
      lineHeight: 1,
      whiteSpace: "nowrap",
      color: "#1a1a1a",
    }}
  >
    {children}
  </div>
);

const XLabel = ({ cx, y }: { cx: number; y: number }) => (
  <div
    style={{
      position: "absolute",
      left: cx,
      top: y,
      transform: "translate(-50%, -50%)",
      fontFamily: SERIF,
      fontSize: 23,
      lineHeight: 1,
      whiteSpace: "nowrap",
      color: "#1a1a1a",
      letterSpacing: 2,
    }}
  >
    <b>2</b>
    <b><i>θ</i></b>
    {" (°)"}
  </div>
);

const Sub = ({ children }: any) => (
  <span style={{ fontSize: "0.65em", position: "relative", top: "0.3em" }}>{children}</span>
);

export default function App() {
  return (
    <div style={{ position: "absolute", left: 0, top: 0, width: 774, height: 1783, background: "#fff", overflow: "hidden" }}>
      {PANELS.map((p, i) => (
        <Panel key={i} cfg={p} />
      ))}

      {/* (a) */}
      <Label x={11} y={32} size={48} bold>(a)</Label>
      <Label x={554} y={80}>
        <b>RUC/FA/H<Sub>2</Sub>O</b> simulated
      </Label>
      <Label x={613} y={210} bold>RUC/FA</Label>
      <Label x={640} y={331}>FA</Label>
      <Label x={634} y={443}>RUC</Label>
      <XLabel cx={413} y={573} />

      {/* (b) */}
      <Label x={12} y={628} size={48} bold>(b)</Label>
      <Label x={553} y={673}>
        <b>RUC/AA</b> simulated
      </Label>
      <Label x={601} y={794} bold>RUC/AA</Label>
      <Label x={633} y={927}>AA</Label>
      <Label x={628} y={1043}>RUC</Label>
      <XLabel cx={423} y={1170} />

      {/* (c) */}
      <Label x={15} y={1219} size={48} bold>(c)</Label>
      <Label x={562} y={1263}>
        <b>RUC/PA</b> simulated
      </Label>
      <Label x={607} y={1388} bold>RUC/PA</Label>
      <Label x={634} y={1523}>PA</Label>
      <Label x={629} y={1638}>RUC</Label>
      <XLabel cx={423} y={1767} />
    </div>
  );
}
